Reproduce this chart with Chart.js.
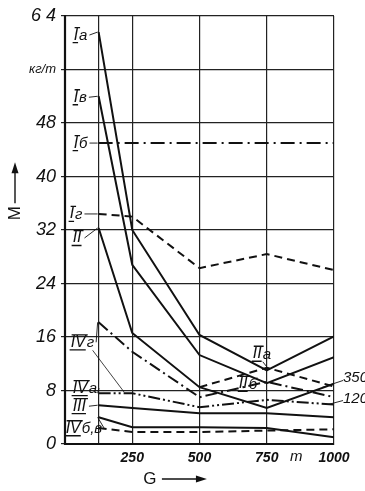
<!DOCTYPE html>
<html><head><meta charset="utf-8">
<script src="https://cdn.jsdelivr.net/npm/chart.js@4/dist/chart.umd.min.js"></script>
<style>html,body{margin:0;padding:0;background:#fff}#wrap{width:365px;height:491px;position:relative}</style>
</head><body><div id="wrap"><canvas id="c" width="365" height="491"></canvas></div>
<script>
// ---- data ----
const G = [125, 250, 500, 750, 1000];
const xGridValues = [0, 125, 250, 500, 750, 1000];
const xTickLabels = {250: '250', 500: '500', 750: '750', 1000: '1000'};
const yTickLabels = {0: '0', 8: '8', 16: '16', 24: '24', 32: '32', 40: '40', 48: '48', 56: 'кг/т', 64: '6 4'};

const Ia   = [61.6, 32.0, 16.3, 11.0, 16.1];
const Iv   = [52.0, 26.8, 13.3, 9.1, 13.0];
const Ib   = [45.0, 45.0, 45.0, 45.0, 45.0];
const Ig   = [34.4, 34.0, 26.3, 28.4, 26.0];
const II   = [32.3, 16.6, 8.5, 5.4, 9.0];
const IIa  = [null, null, 8.5, 11.4, 8.6];
const IVg  = [18.2, 13.8, 7.0, 9.3, 7.0];
const IVa  = [7.6, 7.6, 5.5, 6.6, 5.9];
const III  = [5.8, 5.4, 4.6, 4.6, 4.0];
const IVbS = [4.0, 2.5, 2.5, 2.4, 1.0];
const IVvD = [2.4, 1.8, 1.8, 2.0, 2.2];

const DASH = [8, 5];
const DASHDOT = [12, 4, 2, 4];
const DASHDOTDOT = [12, 3, 2, 3, 2, 3];

function ds(label, data, dash) {
  return {label, data: G.map((g, i) => ({x: g, y: data[i]})), borderColor: '#111', borderWidth: 2,
    borderDash: dash || [], pointRadius: 0, tension: 0, spanGaps: false, fill: false};
}

const datasets = [
  ds('Ia', Ia), ds('Iв', Iv), ds('Iб', Ib, [14, 5, 2, 5]), ds('Iг', Ig, DASH), ds('II', II),
  ds('IIa', IIa, DASH),
  ds('IVг', IVg, DASHDOT), ds('IVa', IVa, DASHDOTDOT), ds('III', III), ds('IVб', IVbS), ds('IVв', IVvD, DASH)
];

// label annotations: [roman, suffix, datasetIndex, pointIndex, textLeftOffset, dy]
const curveLabels = [
  ['I', 'a', 0, 0, -25, 3],
  ['I', 'в', 1, 0, -25, 1],
  ['I', 'б', 2, 0, -25, 0],
  ['I', 'г', 3, 0, -29, 0],
  ['II', '', 4, 0, -26, 10],
  ['IV', 'г', 6, 0, -28, 20],
  ['IV', 'a', 7, 0, -26, -5],
  ['III', '', 8, 0, -26, 1],
  ['IV', 'б,в', 9, 0, -33, 11]
];

const FONT = '"Liberation Sans Narrow", "Liberation Sans", "DejaVu Sans", sans-serif';

const annot = {
  id: 'annot',
  afterDraw(chart) {
    const ctx = chart.ctx, xs = chart.scales.x, ys = chart.scales.y;
    ctx.save();
    ctx.fillStyle = '#111'; ctx.strokeStyle = '#111';
    ctx.textBaseline = 'middle';
    const lab = (rom, suf, x, y) => {
      ctx.font = 'italic 16px ' + FONT;
      ctx.textAlign = 'left';
      ctx.fillText(rom, x, y);
      const w = ctx.measureText(rom).width;
      ctx.lineWidth = 1.3;
      ctx.beginPath();
      ctx.moveTo(x + 1, y - 7.5); ctx.lineTo(x + w + 2, y - 7.5);
      ctx.moveTo(x - 1, y + 7.5); ctx.lineTo(x + w, y + 7.5);
      ctx.stroke();
      ctx.font = 'italic 15px ' + FONT;
      ctx.fillText(suf, x + w + 1, y + 1);
      return w + ctx.measureText(suf).width + 2;
    };
    curveLabels.forEach(([rom, suf, di, pi, dx, dy]) => {
      const d = chart.data.datasets[di].data[pi];
      const px = xs.getPixelForValue(d.x), py = ys.getPixelForValue(d.y);
      const tx = px + dx, ty = py + dy;
      const ew = lab(rom, suf, tx, ty);
      ctx.lineWidth = 0.9;
      ctx.beginPath();
      ctx.moveTo(tx + ew + 1, ty); ctx.lineTo(px - 1, py);
      ctx.stroke();
    });
    // extra thin leader from IVг label
    const pIVg = {x: xs.getPixelForValue(G[0]), y: ys.getPixelForValue(IVg[0])};
    ctx.lineWidth = 0.8;
    ctx.beginPath();
    ctx.moveTo(pIVg.x - 6, pIVg.y + 28);
    ctx.lineTo(xs.getPixelForValue(G[0] + 95), ys.getPixelForValue(IVa[0]) - 1);
    ctx.stroke();
    // IIa / IIб labels near 750
    const p750x = xs.getPixelForValue(750);
    lab('II', 'a', p750x - 14, ys.getPixelForValue(IIa[3]) - 14);
    ctx.lineWidth = 0.9;
    ctx.beginPath(); ctx.moveTo(p750x - 4, ys.getPixelForValue(IIa[3]) - 6); ctx.lineTo(p750x, ys.getPixelForValue(IIa[3]) - 1); ctx.stroke();
    lab('II', 'б', p750x - 28, ys.getPixelForValue(IVg[3]) + 2);
    // 350 / 120 labels
    const p1000 = xs.getPixelForValue(1000);
    ctx.font = 'italic 15px ' + FONT;
    ctx.textAlign = 'left';
    const y350 = ys.getPixelForValue(IIa[4]), y120 = ys.getPixelForValue(IVa[4]);
    ctx.fillText('350', p1000 + 9, y350 - 9);
    ctx.fillText('120', p1000 + 9, y120 - 6);
    ctx.lineWidth = 0.9;
    ctx.beginPath();
    ctx.moveTo(p1000 + 9, y350 - 6); ctx.lineTo(p1000 - 12, y350 + 1);
    ctx.moveTo(p1000 + 9, y120 - 4); ctx.lineTo(p1000 - 6, y120);
    ctx.stroke();
    // axis unit "m"
    ctx.font = 'italic 15px "Liberation Sans", sans-serif';
    ctx.textAlign = 'center';
    ctx.fillText('m', xs.getPixelForValue(860), xs.bottom - 34);
    // axis titles with arrows
    const gx = xs.getPixelForValue(390), gy = xs.bottom - 12;
    ctx.font = '17px "Liberation Sans", sans-serif';
    ctx.fillText('G', gx - 20, gy);
    ctx.lineWidth = 1.4;
    ctx.beginPath(); ctx.moveTo(gx - 8, gy); ctx.lineTo(gx + 30, gy); ctx.stroke();
    ctx.beginPath(); ctx.moveTo(gx + 37, gy); ctx.lineTo(gx + 26, gy - 3.5); ctx.lineTo(gx + 26, gy + 3.5); ctx.closePath(); ctx.fill();
    const my = ys.getPixelForValue(34.5);
    ctx.save();
    ctx.translate(15, my); ctx.rotate(-Math.PI / 2);
    ctx.fillText('M', 0, 0);
    ctx.restore();
    ctx.beginPath(); ctx.moveTo(15, my - 10); ctx.lineTo(15, my - 44); ctx.stroke();
    ctx.beginPath(); ctx.moveTo(15, my - 51); ctx.lineTo(11.5, my - 40); ctx.lineTo(18.5, my - 40); ctx.closePath(); ctx.fill();
    // frame
    const a = chart.chartArea;
    ctx.lineWidth = 2.2;
    ctx.beginPath();
    ctx.moveTo(a.left, a.top); ctx.lineTo(a.left, a.bottom); ctx.lineTo(a.right, a.bottom);
    ctx.stroke();
    ctx.restore();
  }
};

new Chart(document.getElementById('c'), {
  type: 'line',
  data: {datasets},
  options: {
    responsive: false, animation: false,
    layout: {padding: {left: 0, right: 31, top: 16, bottom: 0}},
    plugins: {legend: {display: false}, tooltip: {enabled: false}},
    scales: {
      x: {
        type: 'linear', min: 0, max: 1000,
        afterBuildTicks: s => { s.ticks = xGridValues.map(v => ({value: v})); },
        afterFit: s => { s.height = 47; },
        grid: {color: '#222', lineWidth: 1.2, drawTicks: false},
        border: {color: '#111', width: 2},
        ticks: {
          autoSkip: false, maxRotation: 0, padding: 6, color: '#111',
          font: {family: '"Liberation Sans", sans-serif', size: 14, style: 'italic', weight: 'bold'},
          callback: v => xTickLabels[v] || ''
        }
      },
      y: {
        type: 'linear', min: 0, max: 64,
        afterBuildTicks: s => { s.ticks = Object.keys(yTickLabels).map(v => ({value: +v})); },
        afterFit: s => { s.width = 65; },
        grid: {color: '#222', lineWidth: 1.2, tickLength: 4},
        border: {color: '#111', width: 2},
        ticks: {
          autoSkip: false, padding: 5, color: '#111',
          font: ctx => ctx.tick && ctx.tick.value === 56
            ? {family: '"Liberation Sans", sans-serif', size: 13, style: 'italic'}
            : {family: '"Liberation Sans", sans-serif', size: 18, style: 'italic'},
          callback: v => yTickLabels[v]
        }
      }
    }
  },
  plugins: [annot]
});
</script>
</body></html>
